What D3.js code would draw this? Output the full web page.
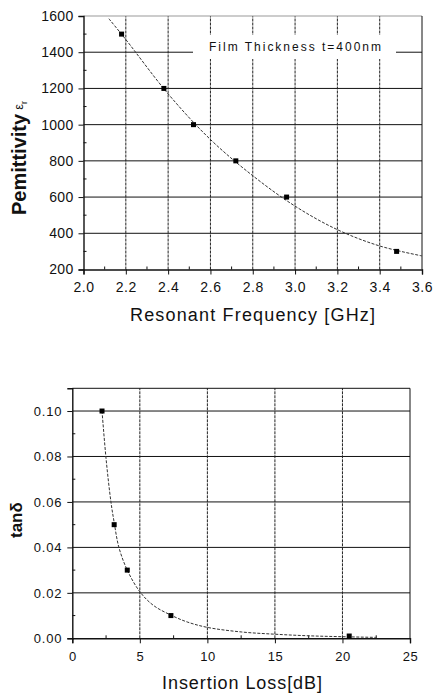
<!DOCTYPE html>
<html>
<head>
<meta charset="utf-8">
<script src="https://cdn.jsdelivr.net/npm/d3@7"></script>
<style>
  html, body { margin: 0; padding: 0; background: #fff; }
  svg { display: block; }
  text { font-family: "Liberation Sans", Arial, sans-serif; fill: #111; }
</style>
</head>
<body>
<script>
// ---------- data ----------
const freqGHz      = [2.18, 2.38, 2.52, 2.72, 2.96, 3.48];
const permittivity = [1500, 1200, 1000, 800, 600, 300];
const fitFreq      = [2.12, 2.2, 2.4, 2.6, 2.8, 3.0, 3.2, 3.4, 3.6];
const fitPerm      = [1585, 1470, 1170, 918, 718, 550, 420, 330, 275];
const freqTicks    = [2.0, 2.2, 2.4, 2.6, 2.8, 3.0, 3.2, 3.4, 3.6];
const permTicks    = [200, 400, 600, 800, 1000, 1200, 1400, 1600];

const lossDb    = [2.2, 3.1, 4.07, 7.3, 20.5];
const tanDelta  = [0.100, 0.050, 0.030, 0.010, 0.001];
const fitLoss   = [2.2, 2.5, 2.86, 3.1, 3.45, 4.07, 5, 6, 7.3, 8.5, 10, 12.5, 15, 17.5, 20, 22.5];
const fitTan    = [0.100, 0.079, 0.060, 0.051, 0.040, 0.030, 0.0205, 0.0145, 0.0102, 0.0072, 0.0048, 0.0028, 0.0018, 0.0011, 0.0007, 0.0004];
const lossTicks = [0, 5, 10, 15, 20, 25];
const tanTicks  = [0.00, 0.02, 0.04, 0.06, 0.08, 0.10];

const W = 434, H = 695;
const svg = d3.select("body").append("svg").attr("width", W).attr("height", H);
svg.append("rect").attr("width", W).attr("height", H).attr("fill", "#fff");

function panel(opt) {
  const x = d3.scaleLinear().domain(opt.xDomain).range(opt.xRange);
  const y = d3.scaleLinear().domain(opt.yDomain).range(opt.yRange);
  const g = svg.append("g");
  const [x0, x1] = opt.xRange, [y0, y1] = opt.yRange; // y0 bottom, y1 top

  // gridlines
  g.append("g").selectAll("line").data(opt.yTicks.filter(v => y(v) < y0 - 1 && y(v) > y1 + 1))
    .join("line").attr("x1", x0).attr("x2", x1).attr("y1", d => y(d)).attr("y2", d => y(d))
    .attr("stroke", "#111").attr("stroke-width", 1);
  g.append("g").selectAll("line").data(opt.xTicks.filter(v => x(v) > x0 + 1 && x(v) < x1 - 1))
    .join("line").attr("x1", d => x(d)).attr("x2", d => x(d)).attr("y1", y0).attr("y2", y1)
    .attr("stroke", "#222").attr("stroke-width", 1).attr("stroke-dasharray", "3,1");

  // annotation box (optional)
  if (opt.note) {
    g.append("rect").attr("x", opt.note.box[0]).attr("y", opt.note.box[1])
      .attr("width", opt.note.box[2]).attr("height", opt.note.box[3]).attr("fill", "#fff");
    g.append("text").attr("x", opt.note.x).attr("y", opt.note.y)
      .attr("font-size", 12).attr("textLength", opt.note.len).attr("lengthAdjust", "spacing")
      .text(opt.note.text);
  }

  // frame top/right
  g.append("line").attr("x1", x0).attr("x2", x1).attr("y1", y1).attr("y2", y1)
    .attr("stroke", opt.topColor).attr("stroke-width", 1);
  g.append("line").attr("x1", x1).attr("x2", x1).attr("y1", y1).attr("y2", y0)
    .attr("stroke", "#111").attr("stroke-width", 1);

  // minor ticks (inward)
  g.append("g").selectAll("line").data(opt.xMinor).join("line")
    .attr("x1", d => x(d)).attr("x2", d => x(d)).attr("y1", y0).attr("y2", y0 - 3)
    .attr("stroke", "#111");
  g.append("g").selectAll("line").data(opt.yMinor).join("line")
    .attr("x1", x0).attr("x2", x0 + 3).attr("y1", d => y(d)).attr("y2", d => y(d))
    .attr("stroke", "#111");

  // axes
  const ax = g.append("g").attr("transform", `translate(0,${y0})`)
    .call(d3.axisBottom(x).tickValues(opt.xTicks).tickFormat(opt.xFmt).tickSize(5).tickPadding(opt.xPad));
  const ay = g.append("g").attr("transform", `translate(${x0},0)`)
    .call(d3.axisLeft(y).tickValues(opt.yTicks).tickFormat(opt.yFmt).tickSize(5).tickPadding(opt.yPad));
  [ax, ay].forEach(a => {
    a.select(".domain").attr("stroke", "#111").attr("stroke-width", 1.4);
    a.selectAll(".tick line").attr("stroke", "#111");
    a.selectAll(".tick text").attr("font-family", "Liberation Sans, Arial, sans-serif")
      .attr("fill", "#111").attr("font-size", opt.tickFont);
  });
  ay.selectAll(".tick text").attr("letter-spacing", opt.yLS);
  ax.selectAll(".tick text").attr("letter-spacing", opt.xLS);

  // fit curve
  const line = d3.line().x(d => x(d[0])).y(d => y(d[1])).curve(d3.curveCatmullRom.alpha(0.5));
  g.append("path").datum(opt.fitX.map((v, i) => [v, opt.fitY[i]]))
    .attr("d", line).attr("fill", "none").attr("stroke", "#333")
    .attr("stroke-width", 1).attr("stroke-dasharray", "3,1.5");

  // markers
  g.append("g").selectAll("rect").data(opt.px.map((v, i) => [v, opt.py[i]])).join("rect")
    .attr("x", d => x(d[0]) - 2.5).attr("y", d => y(d[1]) - 2.5)
    .attr("width", 5).attr("height", 5).attr("fill", "#000");

  return { x, y, g };
}

// ---------- top panel ----------
panel({
  xDomain: [2.0, 3.6], xRange: [83.5, 422],
  yDomain: [200, 1600], yRange: [269.5, 16],
  xTicks: freqTicks, yTicks: permTicks,
  xMinor: d3.range(2.1, 3.6, 0.2), yMinor: d3.range(300, 1600, 200),
  xFmt: d3.format(".1f"), yFmt: d3.format("d"),
  xPad: 8, yPad: 5, tickFont: 14, xLS: 0.6, yLS: 0.3,
  topColor: "#999",
  fitX: fitFreq, fitY: fitPerm, px: freqGHz, py: permittivity,
  note: { box: [193, 35, 203, 24], x: 209, y: 51, len: 172, text: "Film Thickness t=400nm" }
});

// ---------- bottom panel ----------
panel({
  xDomain: [0, 25], xRange: [72.3, 410],
  yDomain: [0, 0.11], yRange: [638.3, 388.3],
  xTicks: lossTicks, yTicks: tanTicks,
  xMinor: d3.range(2.5, 25, 5), yMinor: d3.range(0.01, 0.11, 0.02),
  xFmt: d3.format("d"), yFmt: d3.format(".2f"),
  xPad: 8, yPad: 5, tickFont: 13, xLS: 0.5, yLS: 0.8,
  topColor: "#111",
  fitX: fitLoss, fitY: fitTan, px: lossDb, py: tanDelta
});

// ---------- axis titles ----------
const t1 = svg.append("text").attr("transform", "translate(25.5,215) rotate(-90)")
  .attr("font-size", 20).attr("font-weight", "bold");
t1.append("tspan").text("Pemittivity");
t1.append("tspan").attr("font-weight", "normal").attr("font-size", 13).attr("dx", 4).attr("dy", -3).text("ε");
t1.append("tspan").attr("font-weight", "normal").attr("font-size", 9).attr("dy", 4).text("r");

svg.append("text").attr("x", 130).attr("y", 321).attr("font-size", 18)
  .attr("fill", "#222").attr("textLength", 245).attr("lengthAdjust", "spacing")
  .text("Resonant Frequency [GHz]");

svg.append("text").attr("transform", "translate(22,538) rotate(-90)")
  .attr("font-size", 17).attr("font-weight", "bold").text("tanδ");

svg.append("text").attr("x", 162).attr("y", 689).attr("font-size", 18)
  .attr("fill", "#222").attr("textLength", 160).attr("lengthAdjust", "spacing")
  .text("Insertion Loss[dB]");
</script>
</body>
</html>
